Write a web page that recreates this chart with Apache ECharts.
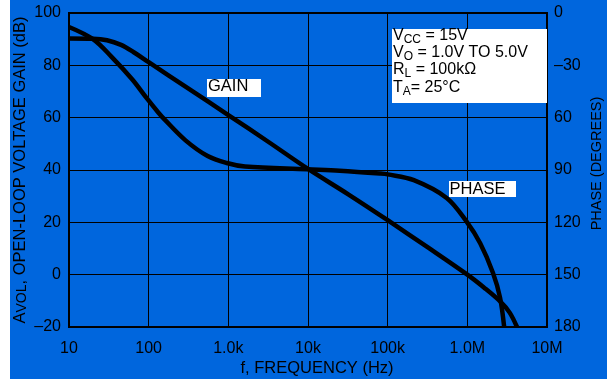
<!DOCTYPE html>
<html>
<head>
<meta charset="utf-8">
<script src="https://cdn.jsdelivr.net/npm/echarts@6/dist/echarts.min.js"></script>
<style>
html, body { margin: 0; padding: 0; background: #fff; }
#wrap { position: relative; width: 607px; height: 381px; }
#bg { position: absolute; left: 10px; top: 0; width: 597px; height: 379px; background: #0066dd; }
#chart { position: absolute; left: 0; top: 0; width: 607px; height: 381px; }
</style>
</head>
<body>
<div id="wrap"><div id="bg"></div><div id="chart"></div></div>
<script>
// axis labels
const freqLabels = ["10", "100", "1.0k", "10k", "100k", "1.0M", "10M"];
const gainLabels = ["\u201320", "0", "20", "40", "60", "80", "100"];
const phaseLabels = ["0", "\u201330", "60", "90", "120", "150", "180"];

// open-loop gain (dB) vs frequency (Hz)
const gainFreq = [10, 20, 30, 45, 65, 100, 320, 1000, 3200, 10000, 32000, 100000, 320000, 1000000, 1600000, 2600000, 3400000, 4200000];
const gainDb   = [90.3, 90.2, 89.6, 87.8, 85, 81.2, 71, 61, 50.7, 40.4, 30.7, 20.8, 10.4, 0, -4.8, -10.3, -14.5, -20];

// phase (degrees) vs frequency (Hz)
const phaseFreq = [10, 20, 34, 62, 95, 132, 158, 290, 550, 955, 1620, 9800, 25000, 80000, 100000, 213000, 550000, 980000, 1450000, 2100000, 2570000, 2900000];
const phaseDeg  = [8, 15, 25, 38, 49, 57, 61, 73, 82, 86, 88, 89.6, 90.4, 92, 92.5, 95.8, 106, 119.6, 132, 149, 163, 180];

const FONT = "Liberation Sans, Arial, sans-serif";

const chart = echarts.init(document.getElementById("chart"));

const labelStyle = { color: "#000", fontSize: 16, fontFamily: FONT };

chart.setOption({
    animation: false,
    grid: {
        left: 69, right: 60, top: 13, bottom: 54,
        show: true,
        borderColor: "#000",
        borderWidth: 2,
        backgroundColor: "transparent"
    },
    xAxis: {
        type: "log",
        logBase: 10,
        min: 10,
        max: 10000000,
        splitNumber: 6,
        axisLine: { show: false },
        axisTick: { show: false },
        splitLine: { show: true, lineStyle: { color: "#000", width: 1 } },
        axisLabel: {
            ...labelStyle,
            margin: 14,
            formatter: v => freqLabels[Math.round(Math.log10(v)) - 1]
        }
    },
    yAxis: [
        {
            type: "value",
            min: -20, max: 100, interval: 20,
            axisLine: { show: false },
            axisTick: { show: false },
            splitLine: { show: true, lineStyle: { color: "#000", width: 1 } },
            axisLabel: {
                ...labelStyle,
                margin: 8,
                formatter: v => gainLabels[Math.round((v + 20) / 20)]
            }
        },
        {
            type: "value",
            position: "right",
            inverse: true,
            min: 0, max: 180, interval: 30,
            axisLine: { show: false },
            axisTick: { show: false },
            splitLine: { show: false },
            axisLabel: {
                ...labelStyle,
                margin: 7,
                formatter: v => phaseLabels[Math.round(v / 30)]
            }
        }
    ],
    series: [
        {
            name: "GAIN",
            type: "line",
            yAxisIndex: 0,
            data: gainFreq.map((f, i) => [f, gainDb[i]]),
            smooth: 0.35,
            symbol: "none",
            clip: true,
            lineStyle: { color: "#000", width: 4.5 }
        },
        {
            name: "PHASE",
            type: "line",
            yAxisIndex: 1,
            data: phaseFreq.map((f, i) => [f, phaseDeg[i]]),
            smooth: 0.35,
            symbol: "none",
            clip: true,
            lineStyle: { color: "#000", width: 4.5 }
        }
    ],
    graphic: [
        // conditions box
        {
            type: "rect", z: 100,
            shape: { x: 392, y: 29, width: 155, height: 74 },
            style: { fill: "#fff" }
        },
        {
            type: "text", z: 101,
            x: 393, y: 26.5,
            style: {
                text: "{m|V}{s|CC}{m| = 15V}\n{m|V}{s|O}{m| = 1.0V TO 5.0V}\n{m|R}{s|L}{m| = 100k\u03a9}\n{m|T}{s|A}{m|= 25\u00b0C}",
                align: "left", verticalAlign: "top",
                textAlign: "left", textVerticalAlign: "top",
                fill: "#000",
                rich: {
                    m: { fontSize: 16, fontFamily: FONT, lineHeight: 17.4, fill: "#000" },
                    s: { fontSize: 12, fontFamily: FONT, lineHeight: 8, padding: [8, 0, 0, 0], fill: "#000" }
                }
            }
        },
        // curve labels
        {
            type: "rect", z: 100,
            shape: { x: 207, y: 79, width: 54, height: 18 },
            style: { fill: "#fff" }
        },
        {
            type: "text", z: 101,
            x: 208, y: 86,
            style: {
                text: "GAIN", fill: "#000", font: "16.5px " + FONT,
                align: "left", verticalAlign: "middle",
                textAlign: "left", textVerticalAlign: "middle"
            }
        },
        {
            type: "rect", z: 100,
            shape: { x: 449, y: 181, width: 67, height: 16 },
            style: { fill: "#fff" }
        },
        {
            type: "text", z: 101,
            x: 449.5, y: 189,
            style: {
                text: "PHASE", fill: "#000", font: "16.5px " + FONT,
                align: "left", verticalAlign: "middle",
                textAlign: "left", textVerticalAlign: "middle"
            }
        },
        // axis titles
        {
            type: "text", z: 101,
            x: 317, y: 368,
            style: {
                text: "f, FREQUENCY (Hz)", fill: "#000", font: "16.5px " + FONT,
                align: "center", verticalAlign: "middle",
                textAlign: "center", textVerticalAlign: "middle"
            }
        },
        {
            type: "text", z: 101,
            x: 20.5, y: 170,
            rotation: Math.PI / 2,
            style: {
                text: "{m|A}{s|VOL}{m|, OPEN-LOOP VOLTAGE GAIN (dB)}",
                align: "center", verticalAlign: "middle",
                textAlign: "center", textVerticalAlign: "middle",
                fill: "#000",
                rich: {
                    m: { fontSize: 16.5, fontFamily: FONT, lineHeight: 18, fill: "#000" },
                    s: { fontSize: 14, fontFamily: FONT, lineHeight: 14, padding: [4, 0, 0, 0], fill: "#000" }
                }
            }
        },
        {
            type: "text", z: 101,
            x: 596.7, y: 163.5,
            rotation: Math.PI / 2,
            style: {
                text: "PHASE (DEGREES)", fill: "#000", font: "14.5px " + FONT,
                align: "center", verticalAlign: "middle",
                textAlign: "center", textVerticalAlign: "middle"
            }
        }
    ]
});
</script>
</body>
</html>
